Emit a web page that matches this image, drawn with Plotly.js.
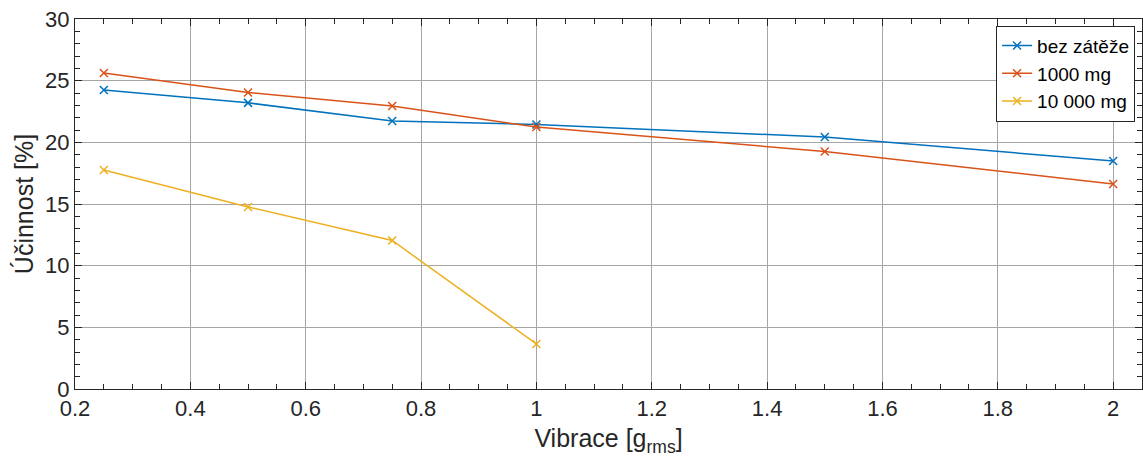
<!DOCTYPE html>
<html><head><meta charset="utf-8">
<script src="https://cdn.plot.ly/plotly-3.0.1.min.js"></script>
<style>html,body{margin:0;padding:0;background:#fff}#c{width:1143px;height:465px}</style>
</head><body><div id="c"></div>
<script>
const vibrace = [0.25, 0.5, 0.75, 1, 1.5, 2];
const vibrace10k = [0.25, 0.5, 0.75, 1];
const bezZateze = [24.24, 23.2, 21.73, 21.45, 20.43, 18.49];
const mg1000 = [25.62, 24.04, 22.95, 21.24, 19.26, 16.62];
const mg10000 = [17.76, 14.76, 12.04, 3.65];
const names = ['bez zátěže', '1000 mg', '10 000 mg'];
const colors = ['#0072BD', '#D95319', '#EDB120'];

function tr(x, y, i) {
  return {x: x, y: y, name: names[i], type: 'scatter', mode: 'lines+markers',
    line: {color: colors[i], width: 1.5},
    marker: {symbol: 'x-thin', size: 8, line: {color: colors[i], width: 1.5}}};
}
const data = [tr(vibrace, bezZateze, 0), tr(vibrace, mg1000, 1), tr(vibrace10k, mg10000, 2)];
const ax = {
  showline: true, linecolor: '#262626', linewidth: 1, mirror: 'ticks',
  ticks: 'inside', ticklen: 7, tickcolor: '#262626', tickwidth: 1,
  showgrid: true, gridcolor: '#a6a6a6', gridwidth: 1, zeroline: false,
  tickfont: {family: 'Liberation Sans, Arial, sans-serif', size: 22, color: '#262626'}
};
const layout = {
  width: 1143, height: 465,
  margin: {l: 75, r: 1, t: 19, b: 76},
  paper_bgcolor: '#fff', plot_bgcolor: '#fff',
  showlegend: true,
  font: {family: 'Liberation Sans, Arial, sans-serif', color: '#262626'},
  xaxis: Object.assign({}, ax, {range: [0.2, 2.05], dtick: 0.2, tick0: 0.2,
    minor: {dtick: 0.05, ticks: 'inside', ticklen: 5, tickcolor: '#262626', showgrid: false},
    title: {text: 'Vibrace [g<sub>rms</sub>]', font: {size: 25, color: '#262626'}, standoff: 9}}),
  yaxis: Object.assign({}, ax, {range: [0, 30], dtick: 5,
    minor: {dtick: 1, ticks: 'inside', ticklen: 5, tickcolor: '#262626', showgrid: false},
    title: {text: 'Účinnost [%]', font: {size: 25, color: '#262626'}, standoff: 4}}),
  legend: {x: 0.9935, xanchor: 'right', y: 0.982, yanchor: 'top',
    bgcolor: '#fff', bordercolor: '#262626', borderwidth: 1,
    font: {size: 19, color: '#000'}, tracegroupgap: 0, itemwidth: 30}
};
Plotly.newPlot('c', data, layout, {displayModeBar: false, staticPlot: true});
</script></body></html>
